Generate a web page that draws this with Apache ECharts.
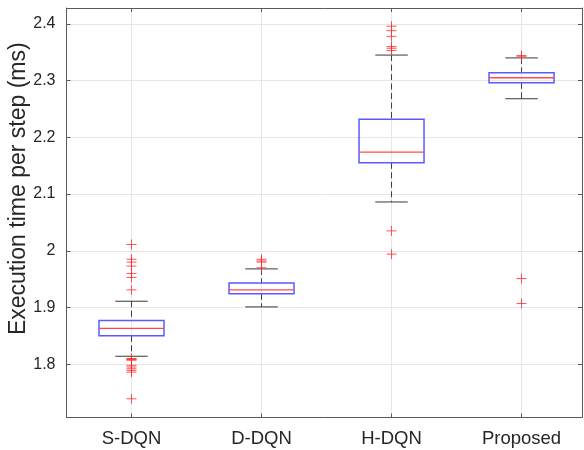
<!DOCTYPE html>
<html>
<head>
<meta charset="utf-8">
<script src="https://cdn.jsdelivr.net/npm/echarts@6/dist/echarts.min.js"></script>
<style>
html,body{margin:0;padding:0;background:#fff;}
#chart{width:584px;height:450px;}
</style>
</head>
<body>
<div id="chart"></div>
<script>
const categories = ['S-DQN', 'D-DQN', 'H-DQN', 'Proposed'];
const lowerWhisker = [1.814, 1.901, 2.086, 2.268];
const q1 = [1.850, 1.924, 2.155, 2.296];
const medians = [1.863, 1.931, 2.174, 2.305];
const q3 = [1.877, 1.943, 2.232, 2.314];
const upperWhisker = [1.911, 1.968, 2.345, 2.340];
const outliersSDQN = [2.011, 1.985, 1.980, 1.973, 1.960, 1.953, 1.931, 1.810, 1.809, 1.808, 1.807, 1.798, 1.795, 1.792, 1.789, 1.786, 1.739];
const outliersDDQN = [1.985, 1.982, 1.980, 1.970];
const outliersHDQN = [2.396, 2.388, 2.378, 2.360, 2.357, 2.353, 2.035, 1.994];
const outliersProposed = [2.344, 2.343, 1.951, 1.907];
const yTicks = [1.8, 1.9, 2.0, 2.1, 2.2, 2.3, 2.4];

const allOutliers = [outliersSDQN, outliersDDQN, outliersHDQN, outliersProposed];
const positions = categories.map((c, i) => i + 1);

const boxData = categories.map((c, i) => [positions[i], lowerWhisker[i], q1[i], medians[i], q3[i], upperWhisker[i]]);
const outlierData = [];
allOutliers.forEach((arr, i) => arr.forEach(v => outlierData.push([positions[i], v])));

const FONT = "'Liberation Sans', Arial, Helvetica, sans-serif";
const AXIS_COLOR = '#5a5a5a';
const GRID_COLOR = '#e6e6e6';

const chart = echarts.init(document.getElementById('chart'), null, {renderer: 'canvas'});

function renderBox(params, api) {
  const x = api.value(0);
  const lw = api.value(1), b1 = api.value(2), md = api.value(3), b3 = api.value(4), uw = api.value(5);
  const halfBox = 0.25, halfCap = 0.125;
  const pL = api.coord([x - halfBox, b3]);
  const pR = api.coord([x + halfBox, b1]);
  const cL = api.coord([x - halfCap, uw]);
  const cR = api.coord([x + halfCap, lw]);
  const c = api.coord([x, md]);
  const top3 = api.coord([x, b3]);
  const bot1 = api.coord([x, b1]);
  const uwP = api.coord([x, uw]);
  const lwP = api.coord([x, lw]);
  const whiskerStyle = {stroke: '#3a3a3a', lineWidth: 1, lineDash: [6, 3.5]};
  const capStyle = {stroke: '#3a3a3a', lineWidth: 1};
  return {
    type: 'group',
    children: [
      {type: 'line', shape: {x1: uwP[0], y1: uwP[1], x2: top3[0], y2: top3[1]}, style: whiskerStyle},
      {type: 'line', shape: {x1: bot1[0], y1: bot1[1], x2: lwP[0], y2: lwP[1]}, style: whiskerStyle},
      {type: 'line', shape: {x1: cL[0], y1: uwP[1], x2: cR[0], y2: uwP[1]}, style: capStyle},
      {type: 'line', shape: {x1: cL[0], y1: lwP[1], x2: cR[0], y2: lwP[1]}, style: capStyle},
      {type: 'rect', shape: {x: pL[0], y: pL[1], width: pR[0] - pL[0], height: pR[1] - pL[1]},
        style: {fill: 'none', stroke: '#5a5aff', lineWidth: 1.5}},
      {type: 'line', shape: {x1: pL[0], y1: c[1], x2: pR[0], y2: c[1]}, style: {stroke: '#ff4a4a', lineWidth: 1.3}}
    ]
  };
}

const xAxisBase = {
  type: 'value', min: 0.5, max: 4.465,
  axisLine: {show: true, lineStyle: {color: AXIS_COLOR, width: 1}},
  axisTick: {show: true, inside: true, length: 4, customValues: positions, lineStyle: {color: AXIS_COLOR}},
  splitLine: {show: false}
};
const yAxisBase = {
  type: 'value', min: 1.706, max: 2.428,
  axisLine: {show: true, lineStyle: {color: AXIS_COLOR, width: 1}},
  axisTick: {show: true, inside: true, length: 4, customValues: yTicks, lineStyle: {color: AXIS_COLOR}},
  splitLine: {show: false}
};

const option = {
  animation: false,
  backgroundColor: '#fff',
  grid: {left: 66.5, right: 2, top: 8, bottom: 32.5, containLabel: false, outerBoundsMode: 'none'},
  xAxis: [
    Object.assign({}, xAxisBase, {
      position: 'bottom',
      splitLine: {show: true, lineStyle: {color: GRID_COLOR, width: 1}},
      axisLabel: {show: true, customValues: positions, margin: 12, fontSize: 18.5, color: '#262626', fontFamily: FONT,
        formatter: v => categories[Math.round(v) - 1] || ''}
    }),
    Object.assign({}, xAxisBase, {position: 'top', axisLabel: {show: false}})
  ],
  yAxis: [
    Object.assign({}, yAxisBase, {
      position: 'left',
      splitLine: {show: true, lineStyle: {color: GRID_COLOR, width: 1}},
      axisLabel: {show: true, customValues: yTicks, margin: 11, fontSize: 16, color: '#262626', fontFamily: FONT},
      name: 'Execution time per step (ms)', nameLocation: 'middle', nameGap: 36, nameMoveOverlap: false,
      nameTextStyle: {fontSize: 23, color: '#262626', fontFamily: FONT, padding: [0, 0, 0, 48]}
    }),
    Object.assign({}, yAxisBase, {position: 'right', axisLabel: {show: false}})
  ],
  series: [
    {
      type: 'custom', name: 'box', xAxisIndex: 0, yAxisIndex: 0,
      data: boxData, renderItem: renderBox, z: 3,
      encode: {x: 0, y: [1, 2, 3, 4, 5]}
    },
    {
      type: 'scatter', name: 'outliers', xAxisIndex: 0, yAxisIndex: 0,
      data: outlierData, symbol: 'path://M0,5L10,5M5,0L5,10', symbolSize: 10, z: 4,
      itemStyle: {color: 'none', borderColor: '#ff2a2a', borderWidth: 1}
    }
  ]
};
chart.setOption(option);
</script>
</body>
</html>
